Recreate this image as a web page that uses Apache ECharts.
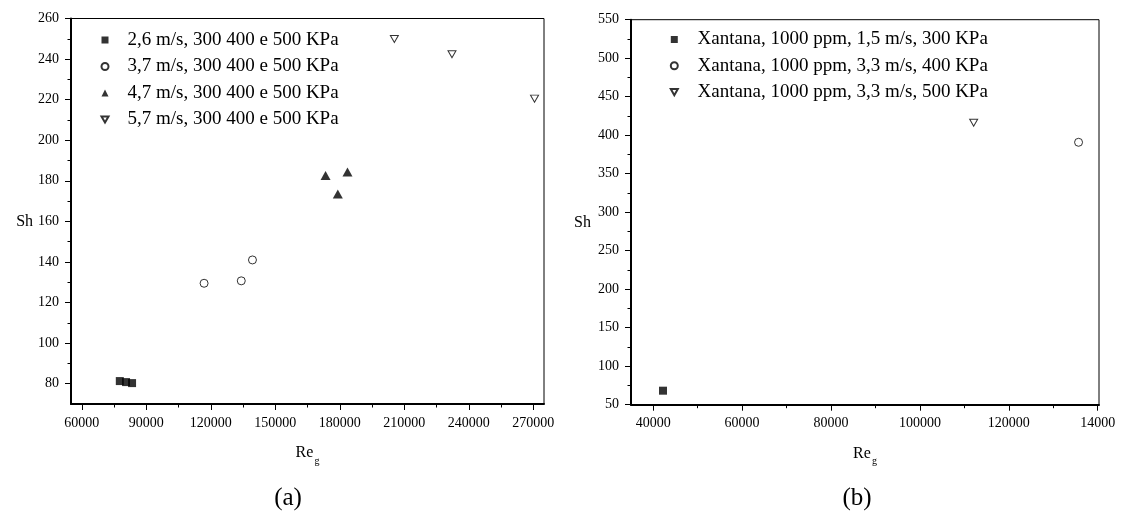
<!DOCTYPE html>
<html>
<head>
<meta charset="utf-8">
<script src="https://cdn.jsdelivr.net/npm/echarts@6/dist/echarts.min.js"></script>
<style>html,body{margin:0;padding:0;background:#fff}#c{width:1126px;height:514px}</style>
</head>
<body>
<div id="c"></div>
<script>
// ---------- data: panel (a) ----------
const namesA = ['2,6 m/s, 300 400 e 500 KPa', '3,7 m/s, 300 400 e 500 KPa', '4,7 m/s, 300 400 e 500 KPa', '5,7 m/s, 300 400 e 500 KPa'];
const reA1 = [77700, 80600, 83400];    const shA1 = [81.3, 80.8, 80.3];
const reA2 = [116900, 134200, 139400]; const shA2 = [129.5, 130.7, 141.0];
const reA3 = [173400, 179100, 183600]; const shA3 = [182.6, 173.5, 184.3];
const reA4 = [205400, 232200, 270600]; const shA4 = [249.9, 242.4, 220.5];
const xTicksA = [60000, 90000, 120000, 150000, 180000, 210000, 240000, 270000];
const xTickLabelsA = ['60000', '90000', '120000', '150000', '180000', '210000', '240000', '270000'];
const xMinorA = [75000, 105000, 135000, 165000, 195000, 225000, 255000];
const yTicksA = [80, 100, 120, 140, 160, 180, 200, 220, 240, 260];
const yMinorA = [90, 110, 130, 150, 170, 190, 210, 230, 250];

// ---------- data: panel (b) ----------
const namesB = ['Xantana, 1000 ppm, 1,5 m/s, 300 KPa', 'Xantana, 1000 ppm, 3,3 m/s, 400 KPa', 'Xantana, 1000 ppm, 3,3 m/s, 500 KPa'];
const reB1 = [42200];  const shB1 = [68.2];
const reB2 = [135700]; const shB2 = [390.8];
const reB3 = [112100]; const shB3 = [416.2];
const xTicksB = [40000, 60000, 80000, 100000, 120000, 140000];
const xTickLabelsB = ['40000', '60000', '80000', '100000', '120000', '14000'];
const xMinorB = [50000, 70000, 90000, 110000, 130000];
const yTicksB = [50, 100, 150, 200, 250, 300, 350, 400, 450, 500, 550];
const yMinorB = [75, 125, 175, 225, 275, 325, 375, 425, 475, 525];

const FONT = '"Liberation Serif", "Times New Roman", serif';
const pairs = (xs, ys) => xs.map((x, i) => [x, ys[i]]);
const downTri = 'path://M0,0L10,0L5,8.66Z';

function axesFor(grid, xr, yr, xT, xL, xM, yT, yM) {
  const lbl = {fontFamily: FONT, fontSize: 14, color: '#000'};
  const xs = [
    {type: 'value', gridIndex: grid, min: xr[0], max: xr[1], position: 'bottom',
     axisLine: {show: true, lineStyle: {color: '#000', width: 2}},
     axisTick: {show: true, inside: false, length: 6, customValues: xT, lineStyle: {color: '#000', width: 1}},
     axisLabel: Object.assign({customValues: xT, margin: 12, formatter: v => xL[xT.indexOf(v)] ?? ''}, lbl),
     splitLine: {show: false},
     name: 'Re{s|g}', nameLocation: 'middle', nameGap: 36,
     nameTextStyle: {fontFamily: FONT, fontSize: 16, color: '#000',
       rich: {s: {fontFamily: FONT, fontSize: 10, color: '#000', padding: [16, 0, 0, 1]}}}},
    {type: 'value', gridIndex: grid, min: xr[0], max: xr[1], position: 'bottom',
     axisLine: {show: false},
     axisTick: {show: true, inside: false, length: 3.5, customValues: xM, lineStyle: {color: '#000', width: 1}},
     axisLabel: {show: false}, splitLine: {show: false}}
  ];
  const ys = [
    {type: 'value', gridIndex: grid, min: yr[0], max: yr[1], position: 'left',
     axisLine: {show: true, lineStyle: {color: '#000', width: 2}},
     axisTick: {show: true, inside: false, length: 6, customValues: yT, lineStyle: {color: '#000', width: 1}},
     axisLabel: Object.assign({customValues: yT, margin: 12}, lbl),
     splitLine: {show: false},
     name: 'Sh', nameLocation: 'middle', nameRotate: 0, nameGap: yr[2],
     nameTextStyle: {fontFamily: FONT, fontSize: 16, color: '#000', verticalAlign: 'top', padding: [3, 0, 0, 0]}},
    {type: 'value', gridIndex: grid, min: yr[0], max: yr[1], position: 'left',
     axisLine: {show: false},
     axisTick: {show: true, inside: false, length: 3.5, customValues: yM, lineStyle: {color: '#000', width: 1}},
     axisLabel: {show: false}, splitLine: {show: false}}
  ];
  return {xs, ys};
}

const a = axesFor(0, [55000, 275000], [70, 260, 35], xTicksA, xTickLabelsA, xMinorA, yTicksA, yMinorA);
const b = axesFor(1, [35000, 140300], [50, 550, 40], xTicksB, xTickLabelsB, xMinorB, yTicksB, yMinorB);

const filled = {color: '#000'};
const hollow = {color: '#fff', borderColor: '#000', borderWidth: 1};

const option = {
  animation: false,
  backgroundColor: '#fff',
  grid: [
    {left: 71, top: 18.5, width: 473, height: 385.5, show: true, borderColor: '#000', borderWidth: 1, backgroundColor: 'transparent'},
    {left: 631, top: 19.7, width: 468, height: 385, show: true, borderColor: '#000', borderWidth: 1, backgroundColor: 'transparent'}
  ],
  xAxis: [...a.xs, ...b.xs],
  yAxis: [...a.ys, ...b.ys],
  legend: [
    {data: namesA, orient: 'vertical', left: 95.5, top: 25, itemWidth: 7, itemHeight: 7, itemGap: 6.5,
     textStyle: {fontFamily: FONT, fontSize: 19, color: '#000', lineHeight: 20, padding: [0, 0, 0, 14]}},
    {data: namesB, orient: 'vertical', left: 664.8, top: 24.5, itemWidth: 7, itemHeight: 7, itemGap: 6.3,
     textStyle: {fontFamily: FONT, fontSize: 19, color: '#000', lineHeight: 20, padding: [0, 0, 0, 14.8]}}
  ],
  graphic: [
    {type: 'text', x: 288, y: 498, style: {text: '(a)', font: '25px ' + FONT, fill: '#000', align: 'center', verticalAlign: 'middle'}},
    {type: 'text', x: 857, y: 498, style: {text: '(b)', font: '25px ' + FONT, fill: '#000', align: 'center', verticalAlign: 'middle'}}
  ],
  series: [
    {name: namesA[0], type: 'scatter', xAxisIndex: 0, yAxisIndex: 0, symbol: 'rect', symbolSize: 8, itemStyle: filled, data: pairs(reA1, shA1)},
    {name: namesA[1], type: 'scatter', xAxisIndex: 0, yAxisIndex: 0, symbol: 'circle', symbolSize: 8, itemStyle: hollow, data: pairs(reA2, shA2)},
    {name: namesA[2], type: 'scatter', xAxisIndex: 0, yAxisIndex: 0, symbol: 'triangle', symbolSize: [10, 9], itemStyle: filled, data: pairs(reA3, shA3)},
    {name: namesA[3], type: 'scatter', xAxisIndex: 0, yAxisIndex: 0, symbol: downTri, symbolSize: [8, 7], itemStyle: hollow, data: pairs(reA4, shA4)},
    {name: namesB[0], type: 'scatter', xAxisIndex: 2, yAxisIndex: 2, symbol: 'rect', symbolSize: 8, itemStyle: filled, data: pairs(reB1, shB1)},
    {name: namesB[1], type: 'scatter', xAxisIndex: 2, yAxisIndex: 2, symbol: 'circle', symbolSize: 8, itemStyle: hollow, data: pairs(reB2, shB2)},
    {name: namesB[2], type: 'scatter', xAxisIndex: 2, yAxisIndex: 2, symbol: downTri, symbolSize: [8, 7], itemStyle: hollow, data: pairs(reB3, shB3)}
  ]
};
echarts.init(document.getElementById('c')).setOption(option);
</script>
</body>
</html>
